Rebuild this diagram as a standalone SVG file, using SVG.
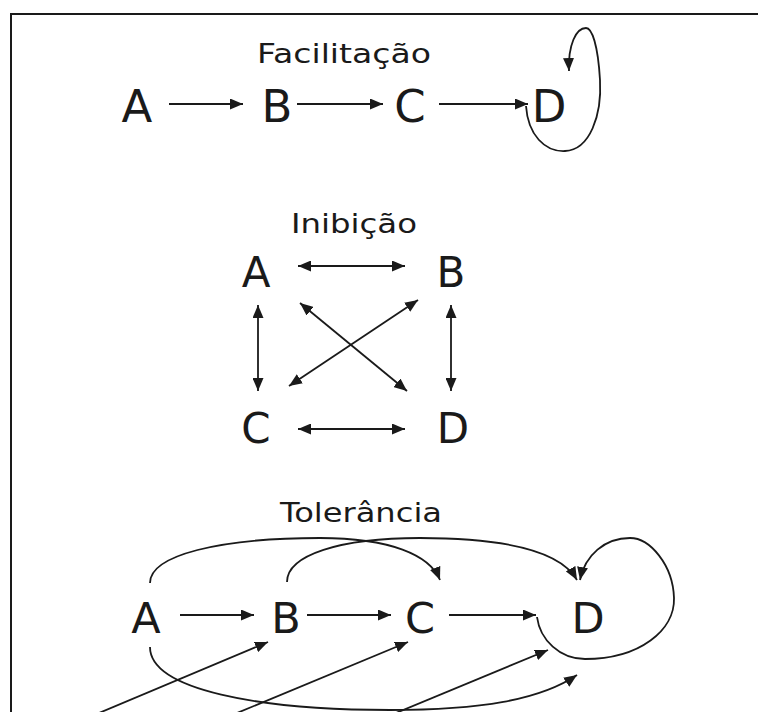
<svg xmlns="http://www.w3.org/2000/svg" width="758" height="712" viewBox="0 0 758 712">
  <style>
    .frame { stroke: #1a1a1a; stroke-width: 2; fill: none; }
    .title { font-family: "DejaVu Sans", Verdana, sans-serif; font-size: 26px; fill: #1a1a1a; text-anchor: middle; }
    .node { font-family: "DejaVu Sans", Verdana, sans-serif; fill: #1a1a1a; text-anchor: middle; }
    .edge { stroke: #1a1a1a; stroke-width: 1.8; fill: none; marker-end: url(#head); }
    .both { marker-start: url(#head); }
  </style>
  <defs>
    <marker id="head" markerUnits="userSpaceOnUse" markerWidth="14" markerHeight="11" refX="13" refY="5.5" orient="auto-start-reverse">
      <path d="M0,0 L13,5.5 L0,11 Z" fill="#1a1a1a"/>
    </marker>
  </defs>
  <rect width="758" height="712" fill="#ffffff"/>
  <path class="frame" d="M11,712 L11,14 L758,14"/>

  <!-- Facilitação -->
  <text class="title" x="344" y="63" textLength="174" lengthAdjust="spacingAndGlyphs">Facilitação</text>
  <g id="f-A"><text class="node" x="137" y="122" font-size="45">A</text></g>
  <g id="f-B"><text class="node" x="277" y="122" font-size="45">B</text></g>
  <g id="f-C"><text class="node" x="410" y="122" font-size="45">C</text></g>
  <g id="f-D"><text class="node" x="549" y="122" font-size="45">D</text></g>
  <g id="f-edges">
    <line class="edge" x1="169" y1="104" x2="243" y2="104"/>
    <line class="edge" x1="297" y1="104" x2="383" y2="104"/>
    <line class="edge" x1="439" y1="104" x2="528" y2="104"/>
    <path class="edge" d="M526,106 C528,135 545,152 565,151 C590,150 602,115 600,80 C598,45 592,28 586,28 C576,28 568,45 569,71"/>
  </g>

  <!-- Inibição -->
  <text class="title" x="354" y="233" textLength="126" lengthAdjust="spacingAndGlyphs">Inibição</text>
  <g id="i-A"><text class="node" x="256" y="287" font-size="42">A</text></g>
  <g id="i-B"><text class="node" x="451" y="287" font-size="42">B</text></g>
  <g id="i-C"><text class="node" x="256" y="443" font-size="42">C</text></g>
  <g id="i-D"><text class="node" x="453" y="443" font-size="42">D</text></g>
  <g id="i-edges">
    <line class="edge both" x1="298" y1="266" x2="405" y2="266"/>
    <line class="edge both" x1="298" y1="429" x2="405" y2="429"/>
    <line class="edge both" x1="258" y1="305" x2="258" y2="391"/>
    <line class="edge both" x1="451" y1="305" x2="451" y2="391"/>
    <line class="edge both" x1="300" y1="303" x2="407" y2="391"/>
    <line class="edge both" x1="289" y1="386" x2="418" y2="300"/>
  </g>

  <!-- Tolerância -->
  <text class="title" x="361" y="522" textLength="162" lengthAdjust="spacingAndGlyphs">Tolerância</text>
  <g id="t-A"><text class="node" x="146" y="633" font-size="43">A</text></g>
  <g id="t-B"><text class="node" x="286" y="633" font-size="43">B</text></g>
  <g id="t-C"><text class="node" x="420" y="633" font-size="43">C</text></g>
  <g id="t-D"><text class="node" x="588" y="633" font-size="43">D</text></g>
  <g id="t-edges">
    <line class="edge" x1="180" y1="615" x2="254" y2="615"/>
    <line class="edge" x1="307" y1="615" x2="391" y2="615"/>
    <line class="edge" x1="449" y1="615" x2="536" y2="615"/>
    <path class="edge" d="M150,583 C150,555 220,538 320,538 C390,538 430,555 440,580"/>
    <path class="edge" d="M287,582 C287,555 340,538 420,538 C500,538 560,550 577,580"/>
    <path class="edge" d="M537,617 C540,640 560,659 585,659 C640,659 675,630 674,598 C673,565 650,538 630,538 C605,538 585,555 580,580"/>
    <path class="edge" d="M150,647 C150,690 260,710 390,710 C480,710 540,700 577,675"/>
    <line class="edge" x1="99" y1="713" x2="268" y2="642"/>
    <line class="edge" x1="237" y1="713" x2="408" y2="642"/>
    <line class="edge" x1="396" y1="713" x2="548" y2="650"/>
  </g>
</svg>
